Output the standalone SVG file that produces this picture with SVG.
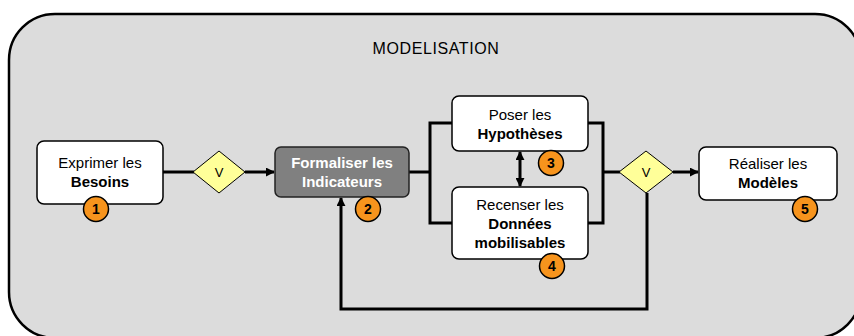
<svg xmlns="http://www.w3.org/2000/svg" width="854" height="336" viewBox="0 0 854 336">
<defs>
<style>
.t{font-family:"Liberation Sans",Arial,sans-serif;font-size:15px;text-anchor:middle;fill:#000}
.b{font-weight:bold}
.w{fill:#fff}
.box{fill:#fff;stroke:#000;stroke-width:1.5}
.dia{fill:#ffff99;stroke:#000;stroke-width:1}
.badge{fill:#f7941d;stroke:#000;stroke-width:1.5}
.bn{font-family:"Liberation Sans",Arial,sans-serif;font-size:14px;font-weight:bold;text-anchor:middle;fill:#000}
.c{fill:none;stroke:#000;stroke-width:3}
</style>
<marker id="ah" viewBox="0 0 10 10" refX="9" refY="5" markerWidth="3" markerHeight="3" orient="auto-start-reverse" markerUnits="strokeWidth">
<path d="M0,0 L10,5 L0,10 z" fill="#000"/>
</marker>
</defs>
<rect x="9" y="14" width="852" height="324" rx="46" ry="46" fill="#dcdcdc" stroke="#000" stroke-width="2.5"/>
<text class="t" x="436" y="54" style="font-size:16px;letter-spacing:0.6px">MODELISATION</text>

<g id="connectors">
<line class="c" x1="163" y1="172" x2="194" y2="172"/>
<line class="c" x1="245" y1="172" x2="274" y2="172" marker-end="url(#ah)"/>
<polyline class="c" points="409,172 430,172"/>
<polyline class="c" points="453,123 430,123 430,223 453,223"/>
<polyline class="c" points="588,123 603,123 603,223 588,223"/>
<line class="c" x1="603" y1="172" x2="620" y2="172"/>
<line class="c" x1="673" y1="172" x2="698" y2="172" marker-end="url(#ah)"/>
<polyline class="c" points="647,193 647,309 341,309 341,198" marker-end="url(#ah)"/>
<line class="c" x1="520" y1="152" x2="520" y2="186" marker-start="url(#ah)" marker-end="url(#ah)"/>
</g>

<g id="n1">
<rect class="box" x="37" y="141" width="126" height="63" rx="7"/>
<text class="t" x="100" y="168">Exprimer les</text>
<text class="t b" x="100" y="187">Besoins</text>
<circle class="badge" cx="96" cy="209" r="12.5"/>
<text class="bn" x="96" y="214">1</text>
</g>

<g id="v1">
<polygon class="dia" points="219,151 245,172 219,193 193,172"/>
<text class="t" x="219" y="177" style="font-size:13px">V</text>
</g>

<g id="n2">
<rect x="275" y="147" width="134" height="50" rx="6" fill="#808080" stroke="#222" stroke-width="1.5"/>
<text class="t b w" x="342" y="168">Formaliser les</text>
<text class="t b w" x="342" y="187">Indicateurs</text>
<circle class="badge" cx="368" cy="209" r="12.5"/>
<text class="bn" x="368" y="214">2</text>
</g>

<g id="n3">
<rect class="box" x="452" y="96" width="136" height="55" rx="7"/>
<text class="t" x="520" y="120">Poser les</text>
<text class="t b" x="520" y="139">Hypothèses</text>
<circle class="badge" cx="551" cy="163" r="12.5"/>
<text class="bn" x="551" y="168">3</text>
</g>

<g id="n4">
<rect class="box" x="452" y="187" width="136" height="72" rx="7"/>
<text class="t" x="520" y="210">Recenser les</text>
<text class="t b" x="520" y="229">Données</text>
<text class="t b" x="520" y="248">mobilisables</text>
<circle class="badge" cx="552" cy="266" r="12.5"/>
<text class="bn" x="552" y="271">4</text>
</g>

<g id="v2">
<polygon class="dia" points="646,151 673,172 646,193 619,172"/>
<text class="t" x="646" y="177" style="font-size:13px">V</text>
</g>

<g id="n5">
<rect class="box" x="699" y="147" width="138" height="53" rx="7"/>
<text class="t" x="768" y="169">Réaliser les</text>
<text class="t b" x="768" y="188">Modèles</text>
<circle class="badge" cx="805" cy="209" r="12.5"/>
<text class="bn" x="805" y="214">5</text>
</g>
</svg>
